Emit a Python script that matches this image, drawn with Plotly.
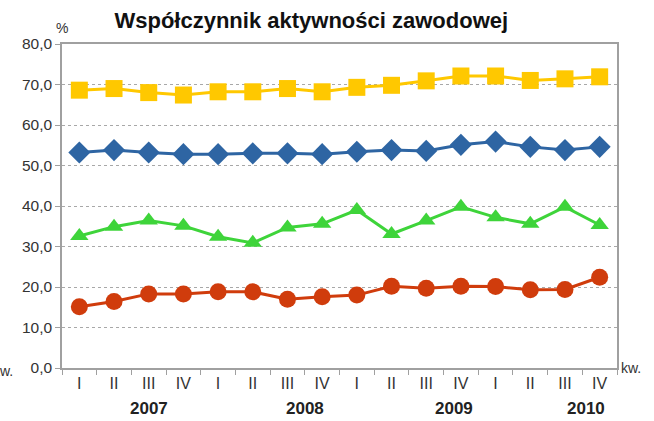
import plotly.graph_objects as go

quarters = ["I", "II", "III", "IV"] * 4
years = ["2007", "2008", "2009", "2010"]
year_pos = [2.0, 6.5, 10.8, 14.6]

yellow = [68.6, 69.0, 68.0, 67.4, 68.2, 68.2, 69.0, 68.2, 69.3, 69.8, 70.9, 72.1, 72.1, 71.0, 71.4, 71.9]
blue = [53.2, 53.8, 53.2, 52.8, 52.8, 53.0, 53.0, 52.8, 53.4, 53.8, 53.6, 55.1, 55.9, 54.6, 53.8, 54.6]
green = [32.6, 34.9, 36.4, 35.1, 32.4, 30.9, 34.7, 35.6, 39.0, 33.1, 36.4, 39.8, 37.2, 35.6, 39.8, 35.3]
red = [15.1, 16.4, 18.3, 18.3, 18.8, 18.8, 17.0, 17.6, 18.0, 20.2, 19.7, 20.2, 20.1, 19.3, 19.4, 22.4]

yticks = [0, 10, 20, 30, 40, 50, 60, 70, 80]
ytick_text = ["0,0", "10,0", "20,0", "30,0", "40,0", "50,0", "60,0", "70,0", "80,0"]

x = list(range(len(quarters)))

fig = go.Figure()
series = [
    (yellow, "#FFC800", "square", 17),
    (blue, "#2E65A3", "diamond", 17),
    (green, "#3ED43A", "triangle-up", 16),
    (red, "#D03C0C", "circle", 17),
]
for vals, col, sym, sz in series:
    fig.add_trace(go.Scatter(
        x=x, y=vals, mode="lines+markers",
        line=dict(color=col, width=3),
        marker=dict(symbol=sym, size=sz, color=col, line=dict(width=0)),
        showlegend=False, hoverinfo="skip",
    ))

font = "Liberation Sans, Arial, sans-serif"
fig.update_layout(
    width=654, height=421,
    margin=dict(l=62, r=37, t=44, b=53),
    paper_bgcolor="white", plot_bgcolor="white",
    font=dict(family=font, color="#222222"),
    title=dict(text="<b>Współczynnik aktywności zawodowej</b>",
               x=0.476, xanchor="center", y=0.952, yanchor="middle",
               font=dict(size=22, color="#111111", family=font)),
    xaxis=dict(
        range=[-0.5, 15.5], tickvals=x, ticktext=quarters,
        ticks="", showgrid=False, zeroline=False,
        showline=True, linecolor="#A0A0A0", linewidth=1.5, mirror=True,
        tickfont=dict(size=16, color="#333333"),
        minor=dict(tickvals=[i - 0.5 for i in range(17)], ticks="outside",
                   ticklen=5, tickcolor="#A0A0A0", showgrid=False),
    ),
    yaxis=dict(
        range=[0, 80], tickvals=yticks, ticktext=ytick_text,
        ticks="outside", ticklen=5, tickcolor="#A0A0A0",
        showgrid=True, gridcolor="#A8A8A8", griddash="3px,3px", gridwidth=1,
        zeroline=False,
        showline=True, linecolor="#A0A0A0", linewidth=1.5, mirror=True,
        tickfont=dict(size=15.5, color="#333333"),
    ),
)

for yr, pos in zip(years, year_pos):
    fig.add_annotation(x=pos, y=0, xref="x", yref="paper", yshift=-40,
                       text="<b>" + yr + "</b>", showarrow=False,
                       font=dict(size=17, color="#222222"),
                       xanchor="center", yanchor="middle")

fig.add_annotation(x=1, y=0, xref="paper", yref="paper", xshift=2,
                   text="kw.", showarrow=False, xanchor="left", yanchor="middle",
                   font=dict(size=14, color="#333333"))
fig.add_annotation(x=0, y=0, xref="paper", yref="paper", xshift=-47, yshift=-3,
                   text="kw.", showarrow=False, xanchor="right", yanchor="middle",
                   font=dict(size=14, color="#333333"))
fig.add_annotation(x=0, y=1, xref="paper", yref="paper", yshift=16,
                   text="%", showarrow=False, xanchor="center", yanchor="middle",
                   font=dict(size=14, color="#333333"))

fig.write_html("out.html",
               config={"displayModeBar": False},
               post_script="document.body.style.margin='0';document.body.style.padding='0';")
